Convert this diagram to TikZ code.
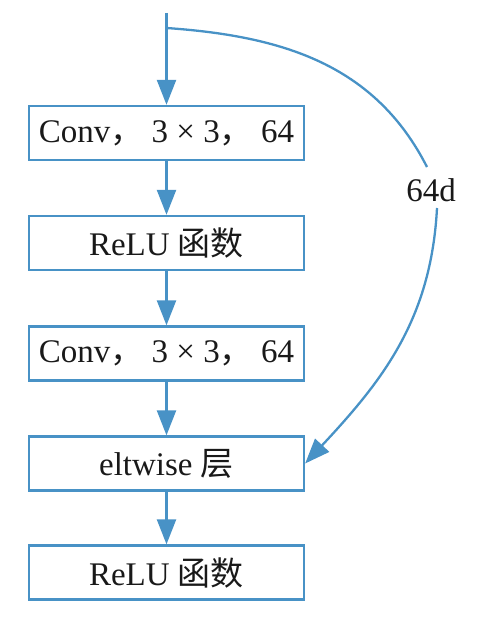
\documentclass[tikz,border=0pt]{standalone}
\usepackage{fontspec}
\setmainfont{Liberation Serif}
\newfontfamily\cjk{Noto Sans CJK SC}
\usetikzlibrary{arrows.meta}
\definecolor{lineblue}{RGB}{72,146,198}
\tikzset{
  blockbox/.style={draw=lineblue, line width=2.3pt, minimum width=275pt, minimum height=54pt, inner sep=0pt,
    font=\fontsize{33}{38}\selectfont, text=black!90},
  conn/.style={draw=lineblue, line width=2.3pt, -{Triangle[length=25pt,width=19pt]}},
  lbl/.style={font=\fontsize{33}{38}\selectfont, text=black!90, inner sep=0pt}
}
\begin{document}
\begin{tikzpicture}[x=1pt,y=1pt]
\useasboundingbox (0,0) rectangle (476,-620);
\node[blockbox] (b1) at (166.5,-133) {Conv{\cjk ，} 3 × 3{\cjk ，} 64};
\node[blockbox] (b2) at (166.5,-243) {ReLU {\cjk 函数}};
\node[blockbox] (b3) at (166.5,-353.5) {Conv{\cjk ，} 3 × 3{\cjk ，} 64};
\node[blockbox] (b4) at (166.5,-463.5) {eltwise {\cjk 层}};
\node[blockbox] (b5) at (166.5,-572.5) {ReLU {\cjk 函数}};
\coordinate (top) at (166.5,-13);
\coordinate (branch) at (166.5,-28);
\node[lbl] (l64) at (431,-190) {64d};
\coordinate (c1) at (427,-167);
\coordinate (c2) at (437,-208);
\draw[conn] (top) -- (b1);
\draw[conn] (b1) -- (b2);
\draw[conn] (b2) -- (b3);
\draw[conn] (b3) -- (b4);
\draw[conn] (b4) -- (b5);
\draw[draw=lineblue, line width=2.3pt] (branch) to[out=-4,in=117] (c1);
\draw[conn] (c2) to[out=-93,in=47] (b4.east);
\end{tikzpicture}
\end{document}
